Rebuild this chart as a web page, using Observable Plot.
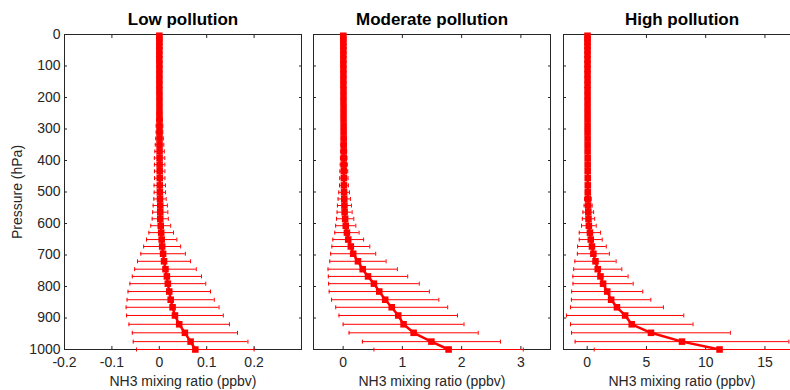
<!DOCTYPE html>
<html>
<head>
<meta charset="utf-8">
<script src="https://cdn.jsdelivr.net/npm/d3@7"></script>
<script src="https://cdn.jsdelivr.net/npm/@observablehq/plot@0.6"></script>
<style>
html, body { margin: 0; padding: 0; width: 790px; height: 390px; overflow: hidden; background: #fff; }
#wrap { position: relative; width: 790px; height: 390px; overflow: hidden; }
#wrap svg { position: absolute; top: 0; }
</style>
</head>
<body>
<div id="wrap"></div>
<script>
// ---- data ----
const titles = ["Low pollution", "Moderate pollution", "High pollution"];
const xLabel = "NH3 mixing ratio (ppbv)";
const yLabel = "Pressure (hPa)";
const pressureTicks = [0, 100, 200, 300, 400, 500, 600, 700, 800, 900, 1000];
const lowTicks = [-0.2, -0.1, 0, 0.1, 0.2];
const modTicks = [0, 1, 2, 3];
const highTicks = [0, 5, 10, 15];
const lowDomain = [-0.2, 0.3];
const modDomain = [-0.5, 3.5];
const highDomain = [-2, 18];

const pressure = [
  1000, 975, 947, 920, 892, 866, 842, 816, 791, 768,
  745, 720, 696, 673, 651, 629, 607, 585, 564, 543,
  522, 501, 479, 456, 434, 413, 392, 371, 350, 330,
  310, 290, 270, 251, 232, 213, 195, 177, 160, 143,
  126, 110, 94, 79, 64, 50, 37, 25, 14, 4
];

const lowMean = [
  0.076, 0.066, 0.054, 0.042, 0.033, 0.028, 0.024, 0.021, 0.018, 0.016,
  0.013, 0.010, 0.008, 0.006, 0.005, 0.004, 0.003, 0.002, 0.002, 0.002,
  0.0015, 0.0012, 0.0010, 0.0009, 0.0008, 0.0007, 0.0006, 0.0006, 0.0005, 0.0005,
  0.0004, 0.0004, 0.0004, 0.0003, 0.0003, 0.0003, 0.0003, 0.0002, 0.0002, 0.0002,
  0.0002, 0.0002, 0.0002, 0.0001, 0.0001, 0.0001, 0.0001, 0.0001, 0.0001, 0.0001
];
const lowSd = [
  0.124, 0.121, 0.111, 0.106, 0.102, 0.098, 0.092, 0.087, 0.080, 0.073,
  0.065, 0.056, 0.047, 0.039, 0.032, 0.026, 0.021, 0.017, 0.016, 0.015,
  0.013, 0.012, 0.012, 0.011, 0.011, 0.011, 0.011, 0.010, 0.009, 0.008,
  0.007, 0.007, 0.006, 0.005, 0.004, 0.004, 0.003, 0.003, 0.002, 0.002,
  0.002, 0.001, 0.001, 0.001, 0.001, 0.001, 0.001, 0.001, 0.001, 0.001
];

const modMean = [
  1.78, 1.49, 1.19, 1.02, 0.93, 0.82, 0.71, 0.61, 0.52, 0.42,
  0.33, 0.25, 0.17, 0.13, 0.086, 0.064, 0.044, 0.034, 0.025, 0.022,
  0.019, 0.016, 0.014, 0.013, 0.012, 0.011, 0.010, 0.010, 0.009, 0.009,
  0.008, 0.008, 0.007, 0.007, 0.007, 0.006, 0.006, 0.006, 0.005, 0.005,
  0.005, 0.005, 0.004, 0.004, 0.004, 0.004, 0.004, 0.003, 0.003, 0.003
];
const modSd = [
  1.26, 1.165, 1.09, 1.02, 1.0, 0.945, 0.905, 0.845, 0.765, 0.67,
  0.585, 0.475, 0.38, 0.32, 0.26, 0.205, 0.17, 0.146, 0.127, 0.118,
  0.104, 0.09, 0.075, 0.07, 0.066, 0.06, 0.055, 0.05, 0.045, 0.04,
  0.035, 0.03, 0.026, 0.022, 0.019, 0.016, 0.014, 0.012, 0.010, 0.009,
  0.008, 0.007, 0.006, 0.005, 0.005, 0.004, 0.004, 0.003, 0.003, 0.003
];

const highMean = [
  11.17, 8.0, 5.38, 3.76, 3.2, 2.51, 2.02, 1.69, 1.34, 1.12,
  0.89, 0.70, 0.52, 0.40, 0.30, 0.23, 0.14, 0.11, 0.09, 0.08,
  0.06, 0.05, 0.05, 0.045, 0.04, 0.04, 0.04, 0.035, 0.035, 0.035,
  0.032, 0.032, 0.031, 0.031, 0.030, 0.030, 0.030, 0.029, 0.029, 0.029,
  0.028, 0.028, 0.028, 0.028, 0.027, 0.027, 0.027, 0.027, 0.026, 0.026
];
const highSd = [
  10.58, 9.02, 6.7, 5.17, 4.95, 3.92, 3.35, 3.0, 2.54, 2.33,
  2.03, 1.74, 1.35, 1.21, 0.97, 0.90, 0.62, 0.52, 0.45, 0.34,
  0.28, 0.2, 0.15, 0.12, 0.1, 0.09, 0.08, 0.07, 0.06, 0.05,
  0.045, 0.04, 0.035, 0.03, 0.03, 0.025, 0.02, 0.02, 0.02, 0.015,
  0.015, 0.015, 0.01, 0.01, 0.01, 0.01, 0.01, 0.01, 0.01, 0.01
];

// ---- drawing ----
const means = [lowMean, modMean, highMean];
const sds = [lowSd, modSd, highSd];
const xTicks = [lowTicks, modTicks, highTicks];
const xDomains = [lowDomain, modDomain, highDomain];

const layout = [
  {left: 0, width: 320, marginLeft: 64, marginRight: 19},
  {left: 300, width: 260, marginLeft: 13, marginRight: 10},
  {left: 550, width: 260, marginLeft: 13, marginRight: 10}
];

const capSymbol = {
  draw(context, size) {
    const h = Math.sqrt(size / Math.PI);
    context.moveTo(0, -h);
    context.lineTo(0, h);
  }
};

const fmt = d => String(d);
const blank = () => "";
const wrap = document.getElementById("wrap");

for (let i = 0; i < 3; i++) {
  const rows = pressure.map((p, k) => ({p, m: means[i][k], s: sds[i][k]}));
  const first = i === 0;
  const L = layout[i];
  const svg = Plot.plot({
    width: L.width,
    height: 390,
    marginLeft: L.marginLeft,
    marginRight: L.marginRight,
    marginTop: 34,
    marginBottom: 41,
    style: {fontFamily: "'Liberation Sans', Arial, Helvetica, sans-serif", color: "#262626", background: "transparent", overflow: "visible"},
    x: {domain: xDomains[i]},
    y: {domain: [0, 1000], reverse: true},
    marks: [
      Plot.frame({stroke: "#262626", strokeWidth: 1}),
      Plot.axisY({anchor: "left", ticks: pressureTicks, tickSize: -3, tickPadding: 7, fontSize: 14,
        tickFormat: first ? fmt : blank, label: first ? yLabel : null,
        labelAnchor: "center", labelOffset: 52, labelArrow: "none"}),
      Plot.axisY({anchor: "right", ticks: pressureTicks, tickSize: -3, tickFormat: blank, label: null}),
      Plot.axisX({anchor: "bottom", ticks: xTicks[i], tickSize: -3, tickPadding: 11, fontSize: 14,
        tickFormat: fmt, label: xLabel, labelAnchor: "center", labelOffset: 36, labelArrow: "none"}),
      Plot.axisX({anchor: "top", ticks: xTicks[i], tickSize: -3, tickFormat: blank, label: null}),
      Plot.ruleY(rows, {y: "p", x1: d => d.m - d.s, x2: d => d.m + d.s, stroke: "red", strokeWidth: 1}),
      Plot.dot(rows, {x: d => d.m - d.s, y: "p", symbol: capSymbol, r: 2, stroke: "red", fill: "none", strokeWidth: 1}),
      Plot.dot(rows, {x: d => d.m + d.s, y: "p", symbol: capSymbol, r: 2, stroke: "red", fill: "none", strokeWidth: 1}),
      Plot.line(rows, {x: "m", y: "p", stroke: "red", strokeWidth: 2.5}),
      Plot.dot(rows, {x: "m", y: "p", symbol: "square", r: 3.7, fill: "red", stroke: "none"}),
      Plot.text([titles[i]], {text: d => d, frameAnchor: "top", lineAnchor: "middle", dy: -15, fontSize: 17, fontWeight: "bold", fill: "black"})
    ]
  });
  svg.style.left = L.left + "px";
  wrap.appendChild(svg);
}
</script>
</body>
</html>
